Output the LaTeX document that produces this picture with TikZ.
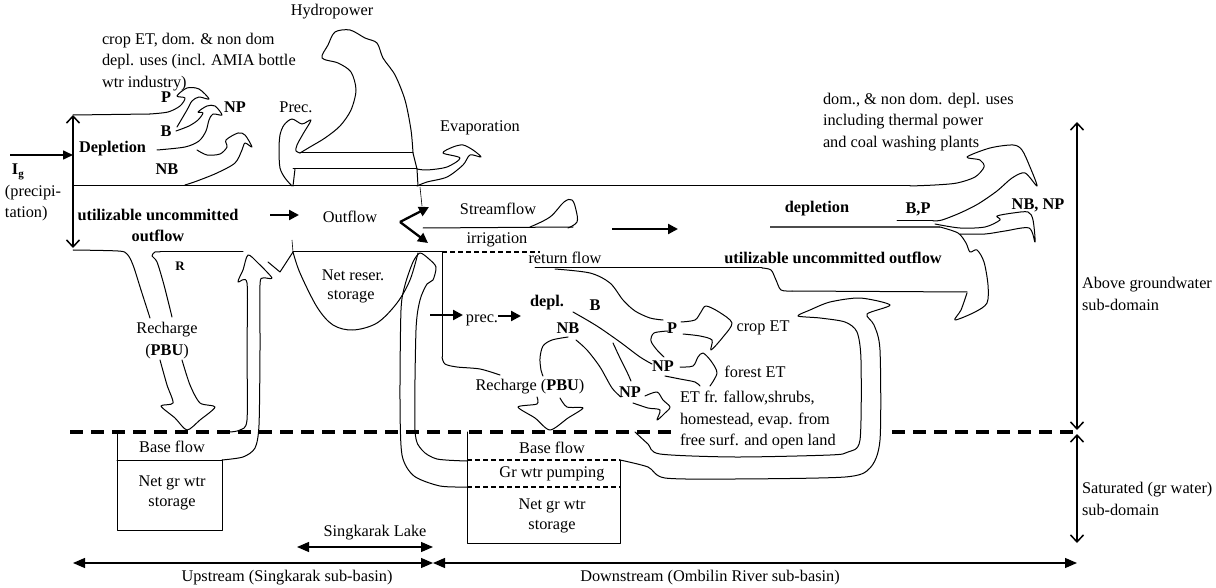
\documentclass[tikz,border=0pt]{standalone}
\usepackage{fontspec}
\setmainfont{Liberation Serif}
\usetikzlibrary{arrows.meta}
\begin{document}
\begin{tikzpicture}[x=1pt,y=-1pt,
  every node/.style={inner sep=0pt,outer sep=0pt,font=\fontsize{16.3}{21.5}\selectfont},
  bl/.style={font=\fontsize{16.3}{21.5}\selectfont\bfseries},
  ml/.style={align=left,anchor=west},
  ln/.style={line width=1pt,line join=round,line cap=round},
  vbarb/.style={line width=1.1pt,{Straight Barb[length=7pt,width=13pt,line width=1.5pt]}-{Straight Barb[length=7pt,width=13pt,line width=1.5pt]}},
  barr/.style={line width=2.3pt,-{Triangle[length=10pt,width=10pt]}},
  tri2/.style={line width=1.2pt,{Triangle[length=12pt,width=10pt]}-{Triangle[length=12pt,width=10pt]}},
  gw/.style={line width=3.2pt,dash pattern=on 13pt off 8pt},
  tdash/.style={line width=1.4pt,dash pattern=on 5pt off 3pt},
]
\useasboundingbox (0,0) rectangle (1216,588);

% ---------- texts ----------
\node (hydro) at (332,12) {Hydropower};
\node[ml] (cropet) at (102,62) {crop ET, dom. \& non dom\\depl. uses (incl. AMIA bottle\\wtr industry)};
\node[bl] (uP) at (166,97) {P};
\node[bl] (uNP) at (235,107) {NP};
\node[bl] (uB) at (166,131) {B};
\node[bl,anchor=west] (udepl) at (79,149) {Depletion};
\node[bl] (uNB) at (167,169) {NB};
\node[anchor=west] (ig) at (12,172) {\textbf{I}\raisebox{-0.4ex}{\fontsize{11}{11}\selectfont\textbf{g}}};
\node[anchor=west] (prc1) at (5,193) {(precipi-};
\node[anchor=west] (prc2) at (5,214) {tation)};
\node[bl] (uuo1) at (158,215) {utilizable uncommitted};
\node[bl] (uuo2) at (158,236) {outflow};
\node (outfl) at (350,217) {Outflow};
\node (prec) at (296,107) {Prec.};
\node (evap) at (480,128) {Evaporation};
\node (stream) at (498,209) {Streamflow};
\node (irrig) at (497,240) {irrigation};
\node[ml] (domtxt) at (823,122) {dom., \& non dom. depl. uses\\including thermal power\\and coal washing plants};
\node[bl] (ddepl) at (817,209) {depletion};
\node[bl] (dBP) at (918,209) {B,P};
\node[bl] (dNBNP) at (1038,205) {NB, NP};
\node (retfl) at (565,258) {return flow};
\node[bl] (duuo) at (833,258) {utilizable uncommitted outflow};
\node (nrs1) at (353,275) {Net reser.};
\node (nrs2) at (351,297) {storage};
\node[font=\fontsize{13}{13}\selectfont\bfseries] (uR) at (180,266) {R};
\node (rch1) at (167,330) {Recharge};
\node (rch2) at (167,352) {(\textbf{PBU})};
\node (dprec) at (482,320) {prec.};
\node[bl] (dd) at (547,303) {depl.};
\node[bl] (dB) at (595,305) {B};
\node[bl] (dNB) at (568,328) {NB};
\node[bl] (dP) at (672,328) {P};
\node (cropET) at (763,328) {crop ET};
\node[bl] (dNP1) at (663,366) {NP};
\node (forET) at (755,372) {forest ET};
\node[bl] (dNP2) at (630,392) {NP};
\node (drch) at (530,387) {Recharge (\textbf{PBU})};
\node[ml] (ettxt) at (680,420) {ET fr. fallow,shrubs,\\homestead, evap. from\\free surf. and open land};
\node[ml] (agw) at (1082,294) {Above groundwater\\sub-domain};
\node[ml] (sat) at (1082,499) {Saturated (gr water)\\sub-domain};
\node (ubf) at (172,447) {Base flow};
\node (ung1) at (172,483) {Net gr wtr};
\node (ung2) at (172,504) {storage};
\node (dbf) at (552,448) {Base flow};
\node (dgp) at (552,474) {Gr wtr pumping};
\node (dng1) at (552,506) {Net gr wtr};
\node (dng2) at (552,527) {storage};
\node (sl) at (375,533) {Singkarak Lake};
\node (up) at (287,578) {Upstream (Singkarak sub-basin)};
\node (down) at (710,578) {Downstream (Ombilin River sub-basin)};

% ---------- coordinates ----------
\coordinate (igS) at (10,155);  \coordinate (igE) at (73,155);
\coordinate (lvT) at (73,115);  \coordinate (lvB) at (73,248);
\coordinate (rvT) at (1077,122); \coordinate (rvM1) at (1077,430);
\coordinate (rvM2) at (1077,434); \coordinate (rvB) at (1077,543);
\coordinate (bL) at (73,563); \coordinate (bM) at (433,563); \coordinate (bR) at (1077,563);
\coordinate (slL) at (297,547); \coordinate (slR) at (433,547);
\coordinate (split) at (400,222);

% ---------- dimension arrows ----------
\draw[line width=1.6pt,-{Triangle[length=10pt,width=9pt]}] (igS) -- (igE);
\draw[vbarb] (lvT) -- (lvB);
\draw[vbarb] (rvT) -- (rvM1);
\draw[vbarb] (rvM2) -- (rvB);
\draw[tri2] (bL) -- (bM);
\draw[tri2] (bM) -- (bR);
\draw[tri2] (slL) -- (slR);

% ---------- main horizontal lines ----------
\draw[ln] (73,115) -- (150,114);
\draw[ln] (73,186) -- (910,186);
\draw[ln] (300,153) -- (413,153);
\draw[ln] (293,169) -- (417,169);
\draw[ln] (413,153) -- (417,169) -- (418,186);
\draw[line width=0.6pt] (420,187) -- (422,206);
\draw[ln] (293,252) -- (442,252);
\draw[tdash] (442,252) -- (540,252);
\draw[ln] (535,268) -- (762,268);
\draw[ln] plot[smooth,tension=0.5] coordinates {(762,268) (771,270) (776,280) (781,290) (792,291)};
\draw[ln] (792,291) -- (967,292);
\draw[ln] (423,228) -- (573,227);
\draw[line width=1.3pt,black!70] (770,227) -- (940,227);
\draw[ln] (897,221) -- (933,221);
\draw[gw] (70,432) -- (677,432);
\draw[gw] (892,432) -- (1077,432);

% ---------- bold flow arrows ----------
\draw[barr] (270,215) -- (299,215);
\draw[barr] (split) -- (429,207);
\draw[barr] (split) -- (428,243);
\draw[barr] (612,229) -- (678,229);
\draw[barr] (430,315) -- (463,315);
\draw[barr] (498,316) -- (521,316);

% ---------- upstream curly arrows ----------
\draw[ln] plot[smooth,tension=0.5] coordinates {(150,114) (168,112) (180,106) (185,98) (177,96) (187,88) (199,89) (209,99) (199,97) (192,101) (187,110) (177,127)};
\draw[ln] plot[smooth,tension=0.5] coordinates {(176,131) (189,126) (198,120) (203,113) (198,112) (207,106) (215,106) (222,115) (213,114) (209,120) (206,131) (199,141) (185,147) (157,150)};
\draw[ln] plot[smooth,tension=0.5] coordinates {(197,150) (207,155) (220,154) (227,147) (226,140) (238,133) (245,135) (252,147) (245,143) (242,150) (235,163) (217,173) (197,181) (185,185)};

% Prec.
\draw[ln] plot[smooth,tension=0.5] coordinates {(292,186) (285,178) (280,168) (279,150) (280,135) (284,125) (292,119) (302,124) (311,120) (303,134) (297,145) (296,151) (300,153)};
\draw[ln] (293,186) -- (295,169);
% Hydropower
\draw[ln] plot[smooth,tension=0.5] coordinates {(300,153) (310,147) (325,138) (340,126) (351,110) (356,90) (351,72) (338,63) (322,58) (328,45) (335,32) (350,30) (365,38) (377,43) (383,58) (395,75) (405,100) (411,130) (413,153)};
% Evaporation
\draw[ln] plot[smooth,tension=0.5] coordinates {(417,169) (427,170) (447,167) (460,158) (443,153) (453,147) (463,145) (473,150) (481,157) (470,155) (463,165) (447,177) (427,182) (417,186)};

% Outflow streamflow teardrop
\draw[ln] plot[smooth,tension=0.6] coordinates {(530,227) (550,217) (564,202) (572,200) (576,210) (577,222) (568,228)};

% reservoir
\draw[ln] plot[smooth,tension=0.55] coordinates {(293,252) (300,273) (317,307) (333,325) (353,330) (377,323) (397,303) (410,280) (418,253)};
\draw[line width=0.6pt] (292,240) -- (293,252);

% upstream recharge
\draw[ln] plot[smooth,tension=0.5] coordinates {(73,250) (118,251) (127,254) (133,265) (141,290) (150,318)};
\draw[ln] plot[smooth,tension=0.45] coordinates {(160,360) (167,385) (173,403) (161,406) (175,418) (187,430) (200,420) (215,407) (200,403) (190,385) (182,360)};
\draw[ln] plot[smooth,tension=0.5] coordinates {(172,317) (164,285) (157,262) (152,256) (155,252) (160,252)};
\draw[ln] (160,252) -- (243,252);
% upstream base flow up-arrow
\draw[ln] plot[smooth,tension=0.45] coordinates {(230,432) (240,430) (247,420) (247,350) (247,283) (238,282) (243,270) (248,255) (258,263) (272,278) (263,278) (260,285) (260,350) (259,425) (255,448) (243,457) (222,460)};
\draw[ln] (268,262) -- (280,272) -- (293,252);
% upstream box
\draw[ln] (117,432) -- (117,530) -- (222,530) -- (222,460);
\draw[ln] (117,460) -- (222,460);

% ---------- downstream ----------
\draw[ln] (442,252) -- (442,357);
\draw[ln] plot[smooth,tension=0.5] coordinates {(442,357) (445,364) (457,367) (480,369) (500,375)};
% big up arrow from pumping
\draw[ln] plot[smooth,tension=0.45] coordinates {(467,487) (440,486) (414,476) (402,455) (400,400) (401,310) (405,285) (413,262) (420,253) (429,259) (436,267) (433,280) (427,284) (420,300) (416,330) (415,430) (422,450) (437,459) (467,461)};
% downstream box
\draw[ln] (467,432) -- (467,543) -- (620,543) -- (620,460);
\draw[tdash] (467,460) -- (620,460);
\draw[tdash] (467,487) -- (620,487);
% big loop
\draw[ln] plot[smooth,tension=0.45] coordinates {(620,460) (648,467) (665,478) (735,479) (845,477) (870,468) (880,440) (880,350) (874,325) (867,314) (890,305) (860,298) (830,302) (810,310) (798,316) (820,318) (845,322) (857,332) (861,360) (860,440) (848,452) (830,455) (735,457) (660,454) (648,444) (635,432)};
% return flow curve
\draw[ln] plot[smooth,tension=0.5] coordinates {(555,269) (590,273) (610,283) (623,300) (635,311) (650,318) (663,320)};
% P head
\draw[ln] plot[smooth,tension=0.5] coordinates {(681,322) (695,320) (701,312) (706,306) (719,312) (732,323) (723,337) (711,350) (712,340) (700,336) (683,334)};
\draw[ln] plot[smooth,tension=0.5] coordinates {(668,331) (654,333) (651,341) (657,350) (664,357)};
% NP upper head
\draw[ln] plot[smooth,tension=0.5] coordinates {(680,367) (693,366) (698,357) (703,353) (711,361) (717,373) (710,386)};
\draw[ln] plot[smooth,tension=0.5] coordinates {(665,376) (680,379) (695,382) (700,386)};
% B line and NB line
\draw[ln] plot[smooth,tension=0.5] coordinates {(573,312) (587,320) (600,328) (620,342) (640,357) (652,364)};
\draw[ln] plot[smooth,tension=0.5] coordinates {(613,343) (620,358) (627,372) (631,381)};
\draw[ln] plot[smooth,tension=0.5] coordinates {(576,340) (587,350) (600,367) (612,388) (621,397)};
% lower NP head
\draw[ln] plot[smooth,tension=0.5] coordinates {(645,396) (657,392) (663,400) (670,407) (665,413) (657,420) (660,410) (648,408) (633,403)};
% downstream recharge
\draw[ln] plot[smooth,tension=0.5] coordinates {(568,337) (552,340) (543,346) (540,358) (541,370) (543,376)};
\draw[ln] plot[smooth,tension=0.45] coordinates {(537,397) (537,404) (518,407) (535,418) (550,430) (568,418) (583,408) (567,407) (560,398)};

% right side: dom arrow
\draw[ln] plot[smooth,tension=0.5] coordinates {(910,186) (935,185) (957,183) (975,177) (984,167) (980,160) (967,157) (990,148) (1013,145) (1022,150) (1030,167) (1037,186) (1025,173) (1012,178) (997,191) (978,204) (960,213) (942,220) (933,221)};
% NB,NP arrow
\draw[ln] plot[smooth,tension=0.5] coordinates {(935,224) (960,228) (985,227) (1000,220) (997,216) (1013,213) (1028,212) (1033,220) (1035,242) (1029,228) (1005,231) (985,234) (960,234)};
% outflow head
\draw[ln] plot[smooth,tension=0.5] coordinates {(940,227) (958,233) (966,243) (970,252) (977,250) (984,262) (988,285) (987,303) (975,312) (955,320) (961,310) (967,293)};
\end{tikzpicture}
\end{document}
